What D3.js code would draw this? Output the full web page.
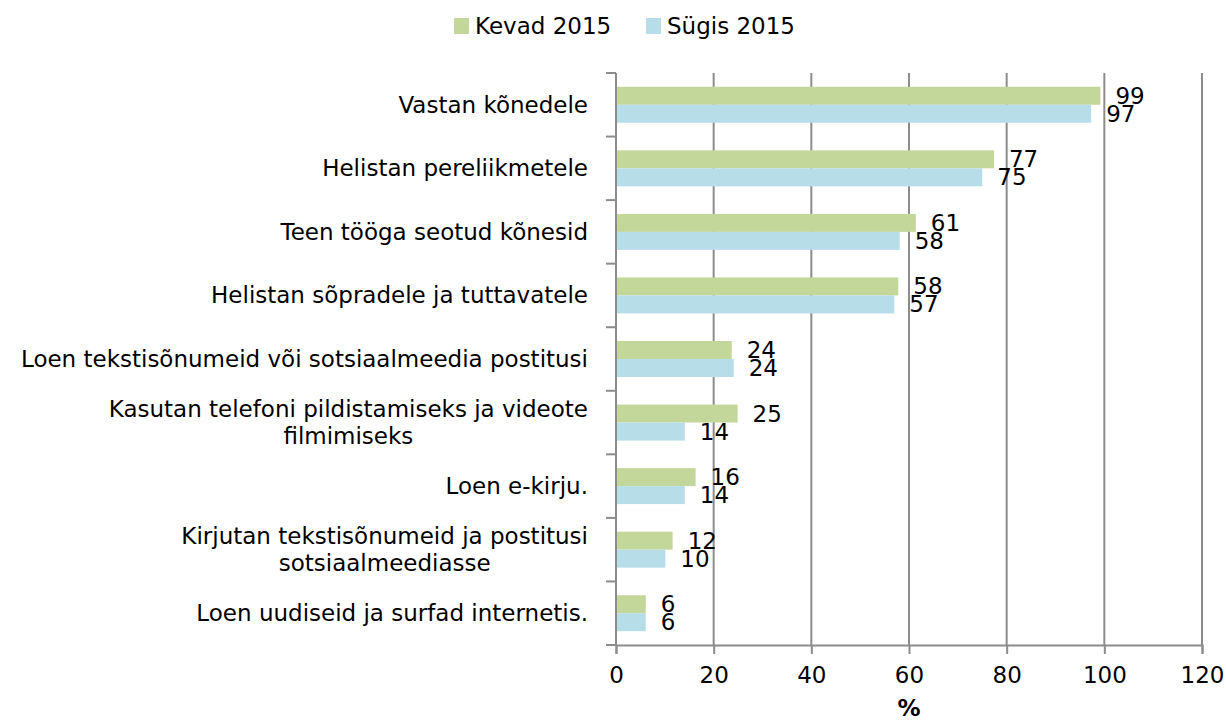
<!DOCTYPE html>
<html>
<head>
<meta charset="utf-8">
<script src="https://cdn.jsdelivr.net/npm/d3@7"></script>
<style>
  body { margin: 0; background: #fff; }
  svg text { font-family: "DejaVu Sans", Verdana, sans-serif; fill: #000; }
</style>
</head>
<body>
<div id="chart"></div>
<script>
// data
var categories = [
  "Vastan kõnedele",
  "Helistan pereliikmetele",
  "Teen tööga seotud kõnesid",
  "Helistan sõpradele ja tuttavatele",
  "Loen tekstisõnumeid või sotsiaalmeedia postitusi",
  "Kasutan telefoni pildistamiseks ja videote\nfilmimiseks",
  "Loen e-kirju.",
  "Kirjutan tekstisõnumeid ja postitusi\nsotsiaalmeediasse",
  "Loen uudiseid ja surfad internetis."
];
var seriesNames = ["Kevad 2015", "Sügis 2015"];
var kevad = [99.2, 77.4, 61.4, 57.8, 23.7, 24.9, 16.3, 11.6, 6.1];
var sugis = [97.3, 75.0, 58.1, 57.0, 24.1, 14.1, 14.1, 10.1, 6.1];
var xTicks = [0, 20, 40, 60, 80, 100, 120];
var colors = ["#c4d79b", "#b7dee8"];

var svgWidth = 1226;
var svgHeight = 722;
var margin = { top: 73, right: 24, bottom: 77, left: 616 };
var width = svgWidth - margin.left - margin.right;
var height = svgHeight - margin.top - margin.bottom;
var fontSize = "23px";

var svg = d3.select("#chart")
  .append("svg")
  .attr("width", svgWidth)
  .attr("height", svgHeight);

var chartGroup = svg.append("g")
  .attr("transform", `translate(${margin.left}, ${margin.top})`);

var rows = categories.map(function(c, i) {
  return { cat: c, values: [kevad[i], sugis[i]] };
});

// scales
var xScale = d3.scaleLinear().domain([0, 120]).range([0, width]);
var yScale = d3.scaleBand().domain(categories).range([0, height]).padding(0);
var barH = 18;
var ySub = d3.scaleBand().domain(seriesNames)
  .range([yScale.bandwidth() / 2 - barH, yScale.bandwidth() / 2 + barH]);

var gridColor = "#8c8c8c";

// vertical gridlines
chartGroup.append("g").selectAll("line")
  .data(xTicks.slice(1))
  .enter()
  .append("line")
  .attr("x1", d => xScale(d))
  .attr("x2", d => xScale(d))
  .attr("y1", 0)
  .attr("y2", height)
  .attr("stroke", gridColor)
  .attr("stroke-width", 2);

// bars
var groups = chartGroup.append("g").selectAll("g")
  .data(rows)
  .enter()
  .append("g")
  .attr("transform", d => `translate(0, ${yScale(d.cat)})`);

groups.selectAll("rect")
  .data(d => d.values.map((v, j) => ({ v: v, s: seriesNames[j], j: j })))
  .enter()
  .append("rect")
  .attr("x", 0)
  .attr("y", d => ySub(d.s))
  .attr("width", d => xScale(d.v))
  .attr("height", ySub.bandwidth())
  .attr("fill", d => colors[d.j]);

// value labels
groups.selectAll("text.val")
  .data(d => d.values.map((v, j) => ({ v: v, s: seriesNames[j] })))
  .enter()
  .append("text")
  .attr("class", "val")
  .attr("x", d => xScale(d.v) + 15)
  .attr("y", d => ySub(d.s) + ySub.bandwidth() / 2)
  .attr("dominant-baseline", "central")
  .style("font-size", fontSize)
  .text(d => Math.round(d.v));

// bottom axis
var bottomAxis = d3.axisBottom(xScale)
  .tickValues(xTicks)
  .tickSize(9)
  .tickPadding(13);
var xAxisG = chartGroup.append("g")
  .attr("transform", `translate(0, ${height})`)
  .call(bottomAxis);
xAxisG.attr("font-family", null).attr("font-size", null);
xAxisG.select(".domain").attr("stroke", gridColor).attr("stroke-width", 2);
xAxisG.selectAll(".tick line").attr("stroke", gridColor).attr("stroke-width", 2);
xAxisG.selectAll(".tick text").style("font-size", fontSize);

// left axis with ticks on category boundaries
var boundaries = d3.range(categories.length + 1).map(i => i * yScale.step());
chartGroup.append("line")
  .attr("x1", 0).attr("x2", 0)
  .attr("y1", 0).attr("y2", height)
  .attr("stroke", gridColor).attr("stroke-width", 2);
chartGroup.append("g").selectAll("line")
  .data(boundaries)
  .enter()
  .append("line")
  .attr("x1", -10).attr("x2", 0)
  .attr("y1", d => d).attr("y2", d => d)
  .attr("stroke", gridColor).attr("stroke-width", 2);

// category labels, right edge 28px left of the axis, lines centered in the block
var lineH = 27;
var catLabels = chartGroup.append("g").selectAll("text")
  .data(rows)
  .enter()
  .append("text")
  .style("font-size", fontSize)
  .attr("text-anchor", "middle")
  .attr("dominant-baseline", "central");

catLabels.each(function(d) {
  var lines = d.cat.split("\n");
  var t = d3.select(this);
  var cy = yScale(d.cat) + yScale.bandwidth() / 2 - (lines.length - 1) * lineH / 2;
  lines.forEach(function(l, k) {
    t.append("tspan").attr("y", cy + k * lineH).text(l);
  });
  var maxW = 0;
  t.selectAll("tspan").each(function() {
    maxW = Math.max(maxW, this.getComputedTextLength());
  });
  t.selectAll("tspan").attr("x", -28 - maxW / 2);
});

// x axis title
chartGroup.append("text")
  .attr("x", width / 2)
  .attr("y", height + 71)
  .attr("text-anchor", "middle")
  .style("font-size", fontSize)
  .style("font-weight", "bold")
  .text("%");

// legend
var legendX = [454, 646];
var legend = svg.append("g").selectAll("g")
  .data(seriesNames)
  .enter()
  .append("g")
  .attr("transform", (d, i) => `translate(${legendX[i]}, 18)`);
legend.append("rect")
  .attr("width", 15)
  .attr("height", 16)
  .attr("fill", (d, i) => colors[i]);
legend.append("text")
  .attr("x", 21)
  .attr("y", 8)
  .attr("dominant-baseline", "central")
  .style("font-size", fontSize)
  .text(d => d);
</script>
</body>
</html>
